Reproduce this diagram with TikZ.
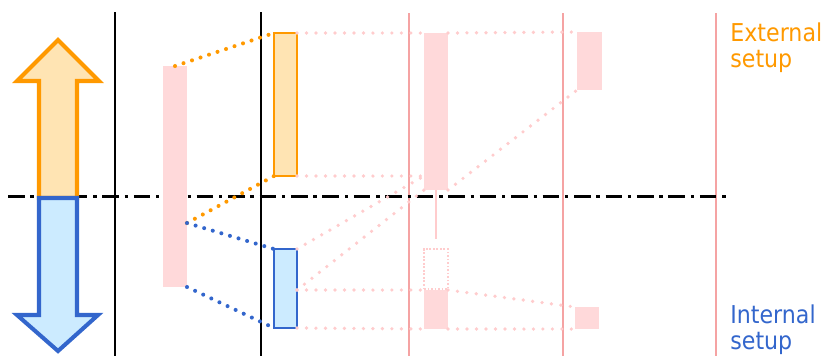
\documentclass[tikz,border=0pt]{standalone}
\usepackage{fontspec}
\setmainfont{DejaVu Sans}
\newfontfamily\setupfont[FakeStretch=0.9]{DejaVu Sans}
\usetikzlibrary{positioning}
\definecolor{setorange}{HTML}{FF9900}
\definecolor{setorangefill}{HTML}{FFE4B3}
\definecolor{setblue}{HTML}{3366CC}
\definecolor{setbluefill}{HTML}{CCEBFF}
\definecolor{slotpink}{HTML}{FFD9DA}
\definecolor{dotpink}{HTML}{FFCCCD}
\definecolor{linepink}{HTML}{F5A3A3}

\begin{document}
\begin{tikzpicture}[x=0.02cm,y=-0.02cm,
  blk/.style 2 args={minimum width=#1*0.02cm, minimum height=#2*0.02cm,
    inner sep=0pt, outer sep=0pt, anchor=north west},
  slot/.style={fill=slotpink},
  extbox/.style={fill=setorangefill, draw=setorange, line width=0.8pt},
  intbox/.style={fill=setbluefill, draw=setblue, line width=0.8pt},
  ghost/.style={draw=dotpink, line width=0.8pt, dash pattern=on 1pt off 1pt},
  dotline/.style={line width=2.3pt, line cap=round, dash pattern=on 0pt off 5.1pt},
  pinkdots/.style={dotpink, line width=2.1pt, line cap=round, dash pattern=on 0pt off 5.4pt},
  divider/.style={line width=1.7pt, dash pattern=on 9.4pt off 3.3pt on 1.9pt off 3.3pt},
  label/.style={anchor=north west, align=left, inner sep=0pt,
    font=\setupfont\fontsize{14}{14.9}\selectfont}]
\useasboundingbox (0,0) rectangle (827,356);

% time axis dividers
\foreach \x in {115,261}
  \draw[line width=0.8pt] (\x,12) -- (\x,356);
\foreach \x in {409,563,716}
  \draw[linepink, line width=0.8pt] (\x,13) -- (\x,356);
\draw[divider] (8,196) -- (730,196);

% setup arrows
\draw[setorange, fill=setorangefill, line width=2.3pt, line join=miter]
  (39,198) -- (39,81) -- (17,81) -- (58,40) -- (99,81) -- (77,81) -- (77,198) -- cycle;
\draw[setblue, fill=setbluefill, line width=2.3pt, line join=miter]
  (39,198) -- (77,198) -- (77,315) -- (98,315) -- (58,351) -- (17,315) -- (39,315) -- cycle;

% blocks
\node[blk={24}{221}, slot] (op) at (163,66) {};
\node[blk={23}{143}, extbox] (ext) at (274,33) {};
\node[blk={23}{79}, intbox] (int) at (274,249) {};
\node[blk={24}{157}, slot] (a) at (424,33) {};
\node[blk={24}{40}, ghost] (aghost) at (424,249) {};
\node[blk={24}{39}, slot] (b) at (424,290) {};
\node[blk={25}{58}, slot] (c) at (577,32) {};
\node[blk={24}{22}, slot] (d) at (575,307) {};
\coordinate (opsplit) at (187,223);
\coordinate (aext) at (a.west |- ext.south);
\coordinate (intb) at (int.east |- b.north);

% split of the operation
\draw[dotline, setorange] (op.north) -- (ext.north west);
\draw[dotline, setorange] (opsplit) -- (ext.south west);
\draw[dotline, setblue] (opsplit) -- (int.north west);
\draw[dotline, setblue] (op.south east) -- (int.south west);

% moved parts
\draw[pinkdots] (ext.north east) -- (a.north west);
\draw[pinkdots] (a.north east) -- (c.north west);
\draw[pinkdots] (ext.south east) -- (aext);
\draw[pinkdots] (int.north east) -- (aext);
\draw[pinkdots] (intb) -- (a.south west);
\draw[pinkdots] (a.south east) -- (c.south west);
\draw[pinkdots] (intb) -- (b.north west);
\draw[pinkdots] (b.north east) -- (d.north west);
\draw[pinkdots] (int.south east) -- (b.south west);
\draw[pinkdots] (b.south east) -- (d.south west);
\draw[dotpink, line width=0.9pt, shorten >=10*0.02cm] (a.south) -- (aghost.north);

\node[label, text=setorange] (exttxt) at (730,22) {External\\setup};
\node[label, text=setblue] (inttxt) at (730,304) {Internal\\setup};
\end{tikzpicture}
\end{document}
